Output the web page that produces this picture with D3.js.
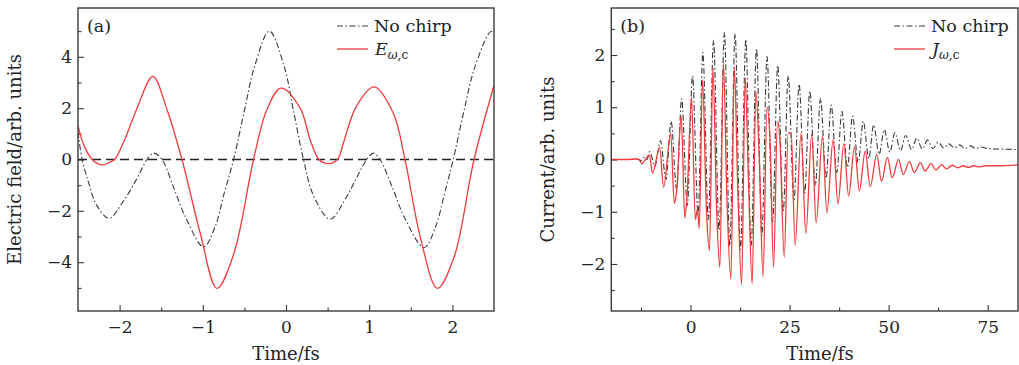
<!DOCTYPE html>
<html>
<head>
<meta charset="utf-8">
<script src="https://cdn.jsdelivr.net/npm/d3@7"></script>
<style>
  body { margin: 0; background: #fff; }
  svg { display: block; }
  text { font-family: "DejaVu Serif", serif; fill: #222; }
</style>
</head>
<body>
<svg id="chart" width="1019" height="365"></svg>
<script>
// ---------------- DATA ----------------
// Panel (a): electric field vs time (fs)
const fieldTicksX = [-2, -1, 0, 1, 2];
const fieldMinorX = [-1.5, -0.5, 0.5, 1.5];
const fieldTicksY = [-4, -2, 0, 2, 4];
const fieldMinorY = [-5, -3, -1, 1, 3, 5];

const noChirpField = [
  [-2.5, 1.08], [-2.45, 0], [-2.37, -0.93], [-2.28, -1.75], [-2.13, -2.29], [-1.95, -1.6],
  [-1.79, -0.73], [-1.67, 0], [-1.59, 0.25], [-1.49, 0], [-1.35, -1.1], [-1.2, -2.3],
  [-0.99, -3.4], [-0.85, -2.6], [-0.75, -1.4], [-0.63, 0], [-0.5, 1.9], [-0.38, 3.6],
  [-0.2, 5.0], [-0.02, 3.6], [0.09, 1.9], [0.21, 0], [0.33, -1.4], [0.53, -2.32],
  [0.72, -1.5], [0.85, -0.7], [0.97, 0], [1.05, 0.25], [1.13, 0], [1.28, -1.1],
  [1.43, -2.3], [1.66, -3.43], [1.8, -2.6], [1.9, -1.4], [2.01, 0], [2.14, 1.9],
  [2.27, 3.6], [2.46, 4.98], [2.5, 4.95]
];
const chirpedField = [
  [-2.5, 1.32], [-2.43, 0.56], [-2.33, 0], [-2.27, -0.15], [-2.19, -0.21], [-2.11, -0.09],
  [-2.06, 0], [-1.95, 0.69], [-1.79, 2.0], [-1.6, 3.24], [-1.43, 1.94], [-1.25, 0],
  [-1.03, -2.88], [-0.83, -5.02], [-0.63, -3.7], [-0.39, 0], [-0.23, 1.94], [-0.06, 2.78],
  [0.17, 2.0], [0.29, 0.77], [0.39, 0.02], [0.45, -0.12], [0.51, -0.16], [0.57, -0.12],
  [0.63, 0.05], [0.69, 0.64], [0.85, 2.1], [1.06, 2.83], [1.29, 1.8], [1.43, 0],
  [1.62, -3.1], [1.82, -5.02], [2.02, -3.8], [2.26, 0], [2.5, 2.88]
];

// Panel (b): current vs time (fs)
const currentTicksX = [0, 25, 50, 75];
const currentMinorX = [-12.5, 12.5, 37.5, 62.5];
const currentTicksY = [-2, -1, 0, 1, 2];
const currentMinorY = [-2.5, -1.5, -0.5, 0.5, 1.5, 2.5];

const noChirpCurrent = [
  [-20, 0], [-15, 0], [-13.5, 0.01], [-12.5, -0.02], [-11.6, 0.05], [-11.0, 0.0],
  [-10.3, 0.15], [-9.0, -0.13], [-7.6, 0.36], [-6.2, -0.38], [-4.9, 0.73], [-3.5, -0.58],
  [-2.25, 1.16], [-0.8, -0.88], [0.5, 1.6], [1.9, -1.05], [3.1, 2.05], [4.5, -1.15],
  [5.8, 2.28], [7.2, -1.35], [8.55, 2.43], [9.9, -1.65], [11.25, 2.41], [12.6, -1.72],
  [13.95, 2.3], [15.3, -1.65], [16.65, 2.12], [18.0, -1.45], [19.3, 1.97], [20.7, -1.2],
  [22.0, 1.8], [23.4, -1.0], [24.65, 1.6], [26.1, -0.8], [27.4, 1.44], [28.8, -0.65],
  [30.1, 1.31], [31.5, -0.5], [32.8, 1.17], [34.2, -0.36], [35.5, 1.04], [36.9, -0.25],
  [38.2, 0.92], [39.6, -0.15], [40.9, 0.83], [42.3, -0.06], [43.6, 0.73], [45.0, 0.02],
  [46.2, 0.66], [47.6, 0.1], [48.9, 0.57], [50.3, 0.14], [51.6, 0.51], [53.0, 0.17],
  [54.3, 0.46], [55.8, 0.19], [57.1, 0.41], [58.5, 0.2], [59.8, 0.37], [61.2, 0.21],
  [62.5, 0.33], [63.9, 0.22], [65.2, 0.3], [66.6, 0.22], [67.9, 0.28], [69.3, 0.21],
  [70.6, 0.26], [72.0, 0.21], [73.3, 0.24], [75, 0.21], [78, 0.2], [83, 0.19]
];
const chirpedCurrent = [
  [-20, 0], [-16, 0], [-14, 0.01], [-13, 0], [-12.3, -0.08], [-11.4, 0.0], [-10.4, 0.09],
  [-9.6, -0.26], [-7.8, 0.23], [-6.8, -0.53], [-5.0, 0.5], [-4.1, -0.84], [-3.5, -0.6],
  [-2.35, 0.83], [-1.45, -1.12], [-0.9, -0.72], [0.25, 1.19], [1.2, -1.15], [1.75, -0.95],
  [2.2, -1.32], [3.03, 1.53], [4.0, -0.95], [4.8, -1.74], [5.64, 1.76], [6.6, -1.0],
  [7.4, -2.07], [8.3, 1.85], [9.2, -0.8], [10.2, -2.29], [11.05, 1.77], [11.9, -0.5],
  [12.9, -2.4], [13.8, 1.56], [14.6, -0.35], [15.55, -2.38], [16.5, 1.3], [17.4, -0.1],
  [18.3, -2.25], [19.3, 1.0], [20.1, 0.3], [20.95, -2.07], [21.95, 0.73], [22.5, 0.45],
  [23.65, -1.87], [24.65, 0.51], [25.4, 0.5], [26.4, -1.65], [27.9, 0.51], [29.1, -1.42],
  [30.6, 0.49], [31.7, -1.21], [33.3, 0.44], [34.4, -1.02], [36.0, 0.38], [37.2, -0.85],
  [38.7, 0.3], [39.9, -0.7], [41.4, 0.24], [42.6, -0.6], [44.1, 0.16], [45.35, -0.52],
  [47.0, 0.1], [48.2, -0.42], [49.7, 0.04], [50.9, -0.35], [52.5, 0.0], [53.7, -0.29],
  [55.2, -0.04], [56.5, -0.25], [58.0, -0.06], [59.2, -0.22], [60.7, -0.08], [61.9, -0.2],
  [63.4, -0.1], [64.6, -0.18], [66.1, -0.11], [67.4, -0.16], [68.8, -0.12], [70.1, -0.15],
  [71.5, -0.12], [72.8, -0.14], [74.5, -0.12], [77, -0.12], [83, -0.1]
];

// ---------------- DRAWING ----------------
const svg = d3.select("#chart");
const RED = "#f03c3c";
const GREY = "#3a3a3a";
const DASHDOT = "6,2.5,1.5,2.5";
const intFmt = d3.format("d");

function drawPanel(o) {
  const x = d3.scaleLinear().domain(o.xDom).range([o.left, o.right]);
  const y = d3.scaleLinear().domain(o.yDom).range([o.bottom, o.top]);
  const g = svg.append("g");
  const clipId = "clip" + o.id;
  svg.append("clipPath").attr("id", clipId).append("rect")
    .attr("x", o.left).attr("y", o.top)
    .attr("width", o.right - o.left).attr("height", o.bottom - o.top);

  // axes with inward ticks
  const ax = g.append("g").attr("transform", `translate(0,${o.bottom})`)
    .call(d3.axisBottom(x).tickValues(o.majX).tickFormat(intFmt)
      .tickSizeInner(-6).tickSizeOuter(0).tickPadding(10));
  const axm = g.append("g").attr("transform", `translate(0,${o.bottom})`)
    .call(d3.axisBottom(x).tickValues(o.minX).tickSizeInner(-3.5).tickSizeOuter(0).tickFormat(""));
  const ay = g.append("g").attr("transform", `translate(${o.left},0)`)
    .call(d3.axisLeft(y).tickValues(o.majY).tickFormat(intFmt)
      .tickSizeInner(-6).tickSizeOuter(0).tickPadding(6));
  const aym = g.append("g").attr("transform", `translate(${o.left},0)`)
    .call(d3.axisLeft(y).tickValues(o.minY).tickSizeInner(-3.5).tickSizeOuter(0).tickFormat(""));
  [ax, axm, ay, aym].forEach(a => {
    a.select(".domain").remove();
    a.selectAll("line").attr("stroke", GREY).attr("stroke-width", 1.1);
    a.selectAll("text").style("font-family", '"DejaVu Serif", serif')
      .style("font-size", "17px").attr("fill", "#222");
  });

  const plot = g.append("g").attr("clip-path", `url(#${clipId})`);
  if (o.zeroLine) {
    plot.append("line").attr("x1", o.left).attr("x2", o.right)
      .attr("y1", y(0)).attr("y2", y(0))
      .attr("stroke", "#222").attr("stroke-width", 1.3).attr("stroke-dasharray", "9,5");
  }
  const line = d3.line().x(d => x(d[0])).y(d => y(d[1])).curve(o.curve);
  plot.append("path").datum(o.black).attr("d", line)
    .attr("fill", "none").attr("stroke", GREY).attr("stroke-width", 1.1)
    .attr("stroke-dasharray", DASHDOT);
  plot.append("path").datum(o.red).attr("d", line)
    .attr("fill", "none").attr("stroke", RED).attr("stroke-width", 1.3);

  // frame
  g.append("rect").attr("x", o.left).attr("y", o.top)
    .attr("width", o.right - o.left).attr("height", o.bottom - o.top)
    .attr("fill", "none").attr("stroke", GREY).attr("stroke-width", 1.4);

  // axis titles
  g.append("text").attr("x", o.xTitleX).attr("y", 360).attr("text-anchor", "middle")
    .style("font-size", "18px").text("Time/fs");
  g.append("text").attr("transform", `translate(${o.yTitleX},${(o.top + o.bottom) / 2}) rotate(-90)`)
    .attr("text-anchor", "middle").attr("dy", "0.35em")
    .style("font-size", "18px").text(o.yTitle);

  // panel tag
  g.append("text").attr("x", o.left + 9).attr("y", 32).style("font-size", "17.5px").text(o.tag);

  // legend
  const lx = o.legendX;
  g.append("line").attr("x1", lx).attr("x2", lx + 31).attr("y1", 26).attr("y2", 26)
    .attr("stroke", GREY).attr("stroke-width", 1.1).attr("stroke-dasharray", DASHDOT);
  g.append("text").attr("x", lx + 37).attr("y", 32).style("font-size", "17.5px").text("No chirp");
  g.append("line").attr("x1", lx).attr("x2", lx + 31).attr("y1", 49).attr("y2", 49)
    .attr("stroke", RED).attr("stroke-width", 1.3);
  const t = g.append("text").attr("x", lx + 38).attr("y", 55).style("font-size", "17.5px");
  t.append("tspan").style("font-style", "italic").text(o.sym);
  t.append("tspan").attr("dy", 4).style("font-size", "12px").style("font-style", "italic").text("ω");
  t.append("tspan").style("font-size", "12px").text(",c");
}

drawPanel({
  id: "a", tag: "(a)", left: 78, right: 494, top: 8, bottom: 311,
  xDom: [-2.5, 2.5], yDom: [-5.9, 5.9],
  majX: fieldTicksX, minX: fieldMinorX, majY: fieldTicksY, minY: fieldMinorY,
  black: noChirpField, red: chirpedField, zeroLine: true, curve: d3.curveCatmullRom.alpha(0.5),
  xTitleX: 286, yTitleX: 15, yTitle: "Electric field/arb. units",
  legendX: 337, sym: "E"
});

drawPanel({
  id: "b", tag: "(b)", left: 611.3, right: 1018, top: 8, bottom: 311,
  xDom: [-20, 82.65], yDom: [-2.9, 2.9],
  majX: currentTicksX, minX: currentMinorX, majY: currentTicksY, minY: currentMinorY,
  black: noChirpCurrent, red: chirpedCurrent, zeroLine: false, curve: d3.curveMonotoneX,
  xTitleX: 820, yTitleX: 548, yTitle: "Current/arb. units",
  legendX: 894, sym: "J"
});
</script>
</body>
</html>
